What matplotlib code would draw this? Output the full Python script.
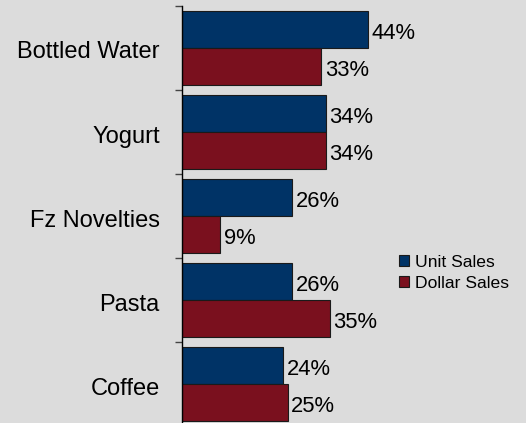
import matplotlib
matplotlib.use("Agg")
import matplotlib.pyplot as plt
import matplotlib.transforms as mtransforms
import numpy as np

categories = ["Bottled Water", "Yogurt", "Fz Novelties", "Pasta", "Coffee"]
unit_sales = [44, 34, 26, 26, 24]
dollar_sales = [33, 34, 9, 35, 25]
series_names = ["Unit Sales", "Dollar Sales"]

plt.rcParams['font.family'] = ['Liberation Sans', 'DejaVu Sans']
bg = "#dcdcdc"
navy = "#003366"
red = "#7a101e"

fig = plt.figure(figsize=(5.26, 4.23), dpi=100, facecolor=bg)
ax = fig.add_axes([182/526, -3/423, 1 - 182/526, 420/423])
ax.set_facecolor(bg)

y = np.arange(len(categories))
h = 0.43
off = 0.22
b1 = ax.barh(y - off, unit_sales, height=h, color=navy, edgecolor="#1a1a1a", linewidth=0.8, label=series_names[0])
b2 = ax.barh(y + off, dollar_sales, height=h, color=red, edgecolor="#1a1a1a", linewidth=0.8, label=series_names[1])

for bars, vals in ((b1, unit_sales), (b2, dollar_sales)):
    for rect, v in zip(bars, vals):
        ax.text(rect.get_width() + 0.9, rect.get_y() + rect.get_height() / 2 + 0.05, f"{v}%",
                va="center", ha="left", fontsize=15.8, color="black")

ax.set_xlim(0, 81.5)
ax.set_ylim(4.5, -0.5)

ax.set_yticks(np.arange(-0.5, len(categories), 1.0))
ax.set_yticklabels([])
ax.tick_params(axis="y", which="major", length=5, width=1, color="#444444", direction="out")
ax.set_yticks(y, minor=True)
ax.set_yticklabels(categories, minor=True, fontsize=17)
ax.tick_params(axis="y", which="minor", length=0, pad=16)
shift = mtransforms.ScaledTranslation(0, -2/100, fig.dpi_scale_trans)
for lbl in ax.get_yticklabels(minor=True):
    lbl.set_transform(lbl.get_transform() + shift)
ax.set_xticks([])

for s in ["top", "right", "bottom"]:
    ax.spines[s].set_visible(False)
ax.spines["left"].set_color("black")
ax.spines["left"].set_linewidth(1)

leg = ax.legend(loc="upper left", bbox_to_anchor=(208/344, 1 - 240/420), frameon=False,
                fontsize=12.6, handlelength=0.6, handleheight=0.6, handletextpad=0.35,
                labelspacing=0.35, borderpad=0)

fig.savefig("out.png", dpi=100, facecolor=bg)
